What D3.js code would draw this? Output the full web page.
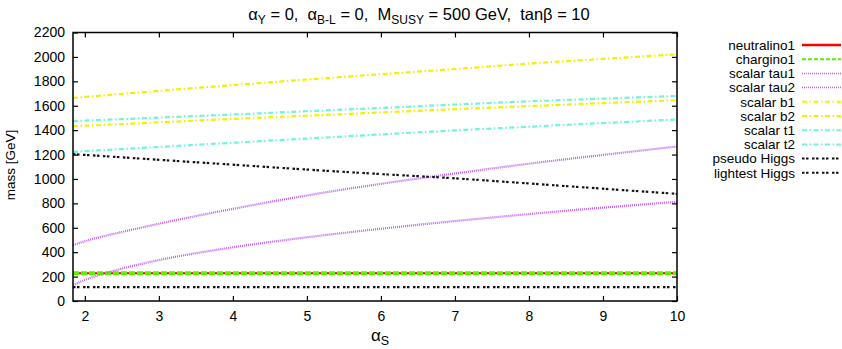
<!DOCTYPE html>
<html><head><meta charset="utf-8">
<script src="https://cdn.jsdelivr.net/npm/d3@7"></script>
<style>body{margin:0;background:#fff}svg{display:block;font-family:"Liberation Sans",Arial,sans-serif}text{white-space:pre}</style>
</head><body><svg id="c" width="842" height="349"></svg>
<script>
const alphaS   = [1.84, 2, 2.5, 3, 4, 5, 6, 7, 8, 9, 10];
const neutralino1 = [228,228,228,228,228,228,228,228,228,228,228];
const chargino1   = [228,228,228,228,228,228,228,228,228,228,228];
const scalarTau1  = [131,172,265,335,440,522,592,655,712,765,813];
const scalarTau2  = [458,490,565,633,755,865,960,1045,1125,1197,1266];
const scalarB1    = [1432,1436,1450,1464,1492,1518,1545,1572,1597,1621,1645];
const scalarB2    = [1664,1672,1697,1722,1769,1815,1858,1901,1945,1984,2021];
const scalarT1    = [1222,1228,1245,1262,1297,1331,1365,1398,1428,1458,1487];
const scalarT2    = [1473,1478,1490,1503,1528,1555,1582,1610,1636,1658,1680];
const pseudoHiggs = [1203,1197,1177,1157,1117,1077,1040,1005,963,920,878];
const lightestHiggs=[114,114,114,114,114,114,114,114,114,114,114];
const xTicks = [2,3,4,5,6,7,8,9,10];
const yTicks = [0,200,400,600,800,1000,1200,1400,1600,1800,2000,2200];

const series = [
  {name:"neutralino1", v:neutralino1, color:"#ff0000", w:2, dash:null, lw:2.5, ldash:null},
  {name:"chargino1", v:chargino1, color:"#5cf000", w:4, dash:"6,2", lw:2, ldash:"4,2"},
  {name:"scalar tau1", v:scalarTau1, color:"#c05cf8", w:2.2, dash:"1,1", lw:1.5, ldash:"1,1"},
  {name:"scalar tau2", v:scalarTau2, color:"#c05cf8", w:2.2, dash:"1,1", lw:1.5, ldash:"1,1"},
  {name:"scalar b1", v:scalarB1, color:"#f2f200", w:2.2, dash:"5,2.5,1.5,2.5", lw:2, ldash:"5,2.5,1.5,2.5"},
  {name:"scalar b2", v:scalarB2, color:"#f2f200", w:2.2, dash:"5,2.5,1.5,2.5", lw:2, ldash:"5,2.5,1.5,2.5"},
  {name:"scalar t1", v:scalarT1, color:"#70f5dc", w:2.2, dash:"5,2.5,1.5,2.5", lw:2, ldash:"5,2.5,1.5,2.5"},
  {name:"scalar t2", v:scalarT2, color:"#70f5dc", w:2.2, dash:"5,2.5,1.5,2.5", lw:2, ldash:"5,2.5,1.5,2.5"},
  {name:"pseudo Higgs", v:pseudoHiggs, color:"#111111", w:2.2, dash:"2.5,1.5,2.5,3.5", lw:2, ldash:"2.5,1.5,2.5,3.5"},
  {name:"lightest Higgs", v:lightestHiggs, color:"#111111", w:2.2, dash:"2.5,1.5,2.5,3.5", lw:2, ldash:"2.5,1.5,2.5,3.5"}
];

const svg = d3.select("#c");
const L=73,R=677,T=32.5,B=301;
const x = d3.scaleLinear().domain([1.84,10]).range([L,R]);
const y = d3.scaleLinear().domain([0,2200]).range([B,T]);

const plot = svg.append("g");
plot.append("clipPath").attr("id","clip").append("rect").attr("x",L).attr("y",T).attr("width",R-L).attr("height",B-T);
const line = d3.line().x((d,i)=>x(alphaS[i])).y(d=>y(d)).curve(d3.curveMonotoneX);
series.forEach(s=>{
  plot.append("path").attr("d",line(s.v)).attr("fill","none").attr("stroke",s.color)
    .attr("stroke-width",s.w).attr("stroke-dasharray",s.dash).attr("clip-path","url(#clip)");
});

// axes
const tl=5, fs=14;
const ff="Liberation Sans, Arial, sans-serif";
svg.append("g").attr("transform",`translate(0,${B})`).call(d3.axisBottom(x).tickValues(xTicks).tickSize(-tl).tickPadding(10).tickFormat(d3.format("d")))
  .call(g=>{g.select(".domain").remove();g.selectAll("text").attr("font-size",fs).attr("font-family",ff).attr("fill","#000");g.selectAll("line").attr("stroke-width",1.2);});
svg.append("g").attr("transform",`translate(0,${T})`).call(d3.axisTop(x).tickValues(xTicks).tickSize(-tl).tickFormat(""))
  .call(g=>{g.select(".domain").remove();g.selectAll("line").attr("stroke-width",1.2);});
svg.append("g").attr("transform",`translate(${L},0)`).call(d3.axisLeft(y).tickValues(yTicks).tickSize(-tl).tickPadding(8).tickFormat(d3.format("d")))
  .call(g=>{g.select(".domain").remove();g.selectAll("text").attr("font-size",fs).attr("font-family",ff).attr("fill","#000");g.selectAll("line").attr("stroke-width",1.2);});
svg.append("g").attr("transform",`translate(${R},0)`).call(d3.axisRight(y).tickValues(yTicks).tickSize(-tl).tickFormat(""))
  .call(g=>{g.select(".domain").remove();g.selectAll("line").attr("stroke-width",1.2);});
svg.append("rect").attr("x",L).attr("y",T).attr("width",R-L).attr("height",B-T).attr("fill","none").attr("stroke","#000").attr("stroke-width",1.5);

// title
const t = svg.append("text").attr("x",419).attr("y",20).attr("text-anchor","middle").attr("font-size",16.5);
const subFs = 12, dyS = 4;
t.append("tspan").text("α");
t.append("tspan").attr("font-size",subFs).attr("dy",dyS).text("Y");
t.append("tspan").attr("dy",-dyS).text(" = 0,  α");
t.append("tspan").attr("font-size",subFs).attr("dy",dyS).text("B-L");
t.append("tspan").attr("dy",-dyS).text(" = 0,  M");
t.append("tspan").attr("font-size",subFs).attr("dy",dyS).text("SUSY");
t.append("tspan").attr("dy",-dyS).text(" = 500 GeV,  tanβ = 10");

const xl = svg.append("text").attr("x",380).attr("y",341).attr("text-anchor","middle").attr("font-size",17);
xl.append("tspan").text("α");
xl.append("tspan").attr("font-size",12.5).attr("dy",4).text("S");

svg.append("text").attr("transform","translate(15,165) rotate(-90)").attr("text-anchor","middle").attr("font-size",13.5).text("mass [GeV]");

// legend
const lg = svg.append("g");
series.forEach((s,i)=>{
  const yy = 45 + 14.2*i;
  lg.append("text").attr("x",795).attr("y",yy+4.8).attr("text-anchor","end").attr("font-size",13.5).text(s.name);
  lg.append("line").attr("x1",802).attr("x2",841).attr("y1",yy).attr("y2",yy).attr("stroke",s.color)
    .attr("stroke-width",s.lw).attr("stroke-dasharray",s.ldash);
});
</script></body></html>
